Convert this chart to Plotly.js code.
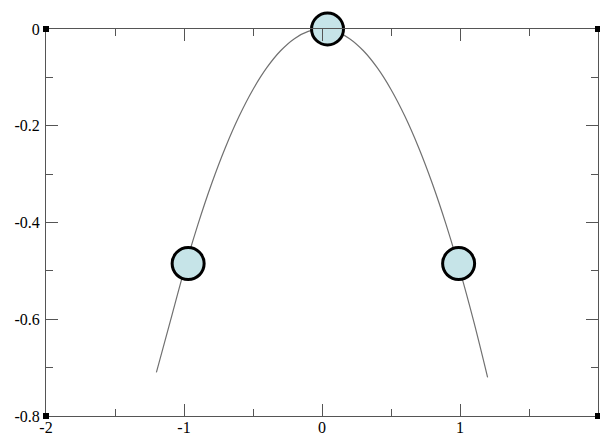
<!DOCTYPE html>
<html>
<head>
<meta charset="utf-8">
<script src="https://cdn.plot.ly/plotly-3.0.1.min.js"></script>
<style>
  html, body { margin: 0; padding: 0; background: #fff; }
  #chart { width: 600px; height: 436px; }
</style>
</head>
<body>
<div id="chart"></div>
<script>
// Parabola traced as a thin line
const curveX = [-1.2, -1.1, -1.0, -0.9, -0.8, -0.7, -0.6, -0.5, -0.4, -0.3, -0.2, -0.1, 0.0,
                0.1, 0.2, 0.3, 0.4, 0.5, 0.6, 0.7, 0.8, 0.9, 1.0, 1.1, 1.2];
const curveY = [-0.71, -0.605, -0.50, -0.405, -0.32, -0.245, -0.18, -0.125, -0.08, -0.045, -0.02, -0.005, 0.0,
                -0.005, -0.02, -0.045, -0.08, -0.125, -0.18, -0.245, -0.32, -0.405, -0.50, -0.605, -0.72];

// Sample points marked with large circles
const pointX = [-0.97, 0.04, 0.99];
const pointY = [-0.485, 0.0, -0.485];

// Axis ticks
const xTicks = [-2, -1, 0, 1, 2];
const yTicks = [-0.8, -0.6, -0.4, -0.2, 0];
const yTickText = ['-0.8', '-0.6', '-0.4', '-0.2', '0'];

const axisColor = '#555555';
const labelFont = { family: 'Liberation Serif, Times New Roman, serif', size: 16, color: '#000' };

const traces = [
  {
    x: curveX, y: curveY, type: 'scatter', mode: 'lines',
    line: { color: '#707070', width: 1.2, shape: 'spline' },
    hoverinfo: 'skip'
  },
  {
    x: pointX, y: pointY, type: 'scatter', mode: 'markers',
    cliponaxis: false,
    marker: { symbol: 'circle', size: 32, color: '#c6e4e8', line: { color: '#000', width: 3 } }
  }
];

// Small filled squares on the frame corners
const corner = (px, py) => ({
  type: 'rect', xref: 'paper', yref: 'paper',
  xsizemode: 'pixel', ysizemode: 'pixel',
  xanchor: px, yanchor: py, x0: -3, x1: 3, y0: -3, y1: 3,
  fillcolor: '#000', line: { width: 0 }
});

const layout = {
  width: 600, height: 436,
  margin: { l: 46, r: 2, t: 29, b: 20 },
  paper_bgcolor: '#fff', plot_bgcolor: '#fff',
  showlegend: false,
  xaxis: {
    range: [-2, 2], tickvals: xTicks, ticktext: xTicks.map(String),
    showgrid: false, zeroline: false,
    showline: true, linecolor: axisColor, linewidth: 1, mirror: 'ticks',
    ticks: 'inside', ticklen: 12, tickwidth: 1, tickcolor: axisColor,
    minor: { dtick: 0.5, tick0: 0, ticks: 'inside', ticklen: 7, tickwidth: 1, tickcolor: axisColor, showgrid: false },
    tickfont: labelFont, ticklabelstandoff: -3
  },
  yaxis: {
    range: [-0.8, 0], tickvals: yTicks, ticktext: yTickText,
    showgrid: false, zeroline: false,
    showline: true, linecolor: axisColor, linewidth: 1, mirror: 'ticks',
    ticks: 'inside', ticklen: 12, tickwidth: 1, tickcolor: axisColor,
    minor: { dtick: 0.1, tick0: 0, ticks: 'inside', ticklen: 7, tickwidth: 1, tickcolor: axisColor, showgrid: false },
    tickfont: labelFont, ticklabelstandoff: 2
  },
  shapes: [corner(0, 0), corner(1, 0), corner(0, 1), corner(1, 1)]
};

Plotly.newPlot('chart', traces, layout, { displayModeBar: false, staticPlot: true });
</script>
</body>
</html>
